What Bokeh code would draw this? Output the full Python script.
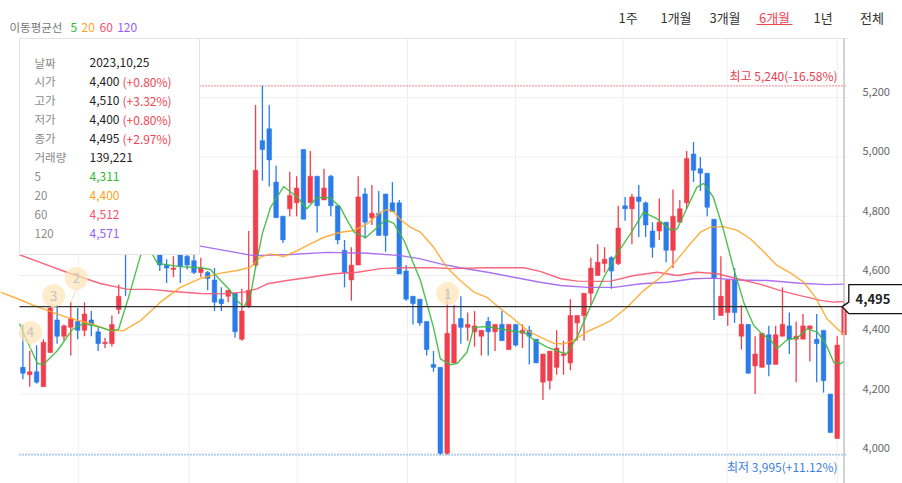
from bokeh.plotting import figure
from bokeh.models import Range1d
from bokeh.core.properties import value
from bokeh.embed import file_html
from bokeh.resources import INLINE

# ---------------- data (daily candles, 6 months) ----------------
opens = [
    4290, 4265, 4275, 4225, 4340, 4450, 4395, 4425, 4445, 4415,
    4450, 4410, 4370, 4370, 4485, 4800, 4700, 4780, 4720, 4760,
    4690, 4635, 4620, 4670, 4665, 4650, 4610, 4610, 4585, 4520,
    4530, 4540, 4385, 4495, 4635, 5055, 5095, 4915, 4800, 4825,
    4845, 5025, 4845, 4935, 4855, 4935, 4835, 4685, 4585, 4635,
    4875, 4795, 4810, 4875, 4845, 4845, 4615, 4530, 4520, 4445,
    4300, 4290, 4000, 4305, 4455, 4425, 4410, 4395, 4445, 4410,
    4435, 4350, 4435, 4405, 4415, 4385, 4240, 4245, 4290, 4330,
    4305, 4440, 4465, 4540, 4600, 4640, 4660, 4640, 4835, 4825,
    4865, 4845, 4750, 4750, 4780, 4685, 4780, 4845, 5010, 4960,
    4945, 4790, 4465, 4475, 4585, 4395, 4435, 4295, 4290, 4400,
    4300, 4395, 4430, 4385, 4385, 4420, 4385, 4415, 4200, 4050,
    4400]
highs = [
    4435, 4345, 4365, 4385, 4500, 4500, 4435, 4510, 4490, 4510,
    4480, 4425, 4390, 4465, 4570, 4830, 4800, 4810, 4790, 4770,
    4710, 4655, 4665, 4690, 4690, 4680, 4660, 4615, 4625, 4560,
    4550, 4540, 4555, 4750, 5175, 5240, 5175, 4970, 4800, 4950,
    4935, 5025, 5020, 4935, 4960, 4940, 4835, 4720, 4695, 4935,
    4895, 4905, 4885, 4875, 4915, 4855, 4635, 4530, 4520, 4445,
    4345, 4290, 4555, 4500, 4530, 4475, 4480, 4415, 4460, 4435,
    4480, 4435, 4435, 4435, 4430, 4385, 4335, 4345, 4415, 4380,
    4520, 4465, 4540, 4660, 4705, 4695, 4665, 4835, 4865, 4875,
    4905, 4850, 4780, 4860, 4780, 4890, 4855, 5020, 5050, 5000,
    4945, 4790, 4665, 4585, 4625, 4500, 4435, 4395, 4405, 4430,
    4430, 4560, 4475, 4445, 4470, 4430, 4470, 4415, 4200, 4395,
    4510]
lows = [
    4250, 4225, 4235, 4225, 4340, 4370, 4380, 4330, 4385, 4395,
    4395, 4345, 4355, 4360, 4470, 4530, 4690, 4700, 4700, 4680,
    4615, 4575, 4595, 4575, 4620, 4605, 4595, 4550, 4480, 4480,
    4510, 4390, 4380, 4490, 4625, 4920, 4900, 4795, 4710, 4800,
    4800, 4790, 4845, 4745, 4855, 4800, 4705, 4560, 4515, 4635,
    4725, 4770, 4735, 4680, 4815, 4605, 4515, 4435, 4430, 4330,
    4275, 3995, 3995, 4305, 4370, 4380, 4360, 4330, 4330, 4345,
    4380, 4350, 4360, 4355, 4300, 4305, 4180, 4215, 4265, 4265,
    4280, 4380, 4380, 4500, 4600, 4610, 4555, 4635, 4785, 4705,
    4730, 4730, 4660, 4720, 4645, 4625, 4780, 4825, 4915, 4885,
    4800, 4450, 4465, 4430, 4440, 4350, 4270, 4200, 4290, 4260,
    4300, 4395, 4335, 4240, 4385, 4310, 4240, 4205, 4070, 4050,
    4400]
closes = [
    4270, 4275, 4240, 4375, 4490, 4395, 4430, 4455, 4415, 4470,
    4435, 4370, 4375, 4435, 4530, 4690, 4780, 4720, 4760, 4700,
    4635, 4625, 4625, 4630, 4635, 4610, 4625, 4590, 4510, 4505,
    4550, 4410, 4480, 4550, 4955, 5025, 4990, 4795, 4720, 4870,
    4895, 4790, 4935, 4835, 4895, 4835, 4720, 4610, 4635, 4865,
    4780, 4810, 4735, 4735, 4815, 4605, 4520, 4505, 4440, 4350,
    4290, 4000, 4405, 4435, 4425, 4435, 4430, 4415, 4410, 4435,
    4380, 4435, 4365, 4415, 4395, 4305, 4335, 4345, 4355, 4335,
    4465, 4465, 4540, 4625, 4645, 4655, 4615, 4760, 4825, 4865,
    4850, 4770, 4695, 4780, 4685, 4800, 4825, 4995, 4955, 4945,
    4830, 4590, 4530, 4585, 4475, 4435, 4270, 4335, 4405, 4300,
    4400, 4435, 4385, 4395, 4430, 4430, 4370, 4245, 4070, 4365,
    4495]

# moving averages (candle position, price)
ma5_idx = [-0.5, 0.38, 2.13, 3.0, 5.06, 7.25, 8.86, 10.32, 11.34, 12.8, 13.97, 15.44, 17.19,
           18.2, 19.67, 23.0, 25.95, 27.4, 28.9, 30.3, 31.3, 32.3, 33.3, 34.0, 35.0, 36.2,
           38.1, 40.1, 41.5, 43.0, 44.9, 46.4, 47.4, 48.4, 50.1, 51.8, 53.0, 54.2, 55.7,
           57.1, 58.1, 60.0, 61.0, 62.5, 63.5, 64.9, 65.9, 67.9, 69.8, 71.7, 73.2, 74.7,
           76.6, 78.6, 79.5, 81.0, 82.9, 84.9, 86.8, 88.8, 90.7, 92.7, 94.6, 95.6, 97.1,
           98.5, 99.5, 100.9, 102.4, 103.9, 105.4, 106.8, 108.0, 109.3, 110.2, 111.7,
           113.2, 114.6, 116.1, 117.3, 118.5, 119.5, 120.0]
ma5_val = [4438, 4391, 4303, 4300, 4347, 4418, 4438, 4431, 4425, 4414, 4418, 4526, 4667,
           4701, 4641, 4630, 4626, 4620, 4583, 4549, 4516, 4493, 4538, 4628, 4742, 4830,
           4900, 4864, 4825, 4864, 4862, 4830, 4785, 4746, 4727, 4763, 4788, 4776, 4718,
           4639, 4583, 4425, 4319, 4299, 4304, 4341, 4425, 4428, 4420, 4412, 4409, 4383,
           4358, 4341, 4336, 4392, 4493, 4594, 4673, 4741, 4814, 4791, 4754, 4757, 4830,
           4898, 4911, 4864, 4752, 4620, 4505, 4431, 4403, 4381, 4353, 4383,
           4390, 4420, 4409, 4370, 4307, 4302, 4311]

ma20_idx = [-3.27, -0.5, 1.55, 6.52, 9.88, 12.8, 14.7, 17.2, 20.1, 23.0, 25.95, 28.9, 31.3,
            33.3, 34.7, 36.2, 38.1, 40.1, 42.0, 44.0, 46.4, 48.4, 50.3, 52.3, 53.2, 54.2,
            55.2, 56.6, 58.1, 60.0, 62.0, 63.9, 65.9, 67.9, 69.8, 71.7, 73.7, 75.6, 77.6,
            79.0, 80.5, 82.5, 84.4, 85.9, 88.3, 90.7, 93.2, 95.1, 97.1, 99.0, 100.5, 102.4,
            104.4, 106.3, 108.3, 110.2, 112.2, 114.1, 115.8, 117.5, 119.0, 120.0]
ma20_val = [4544, 4519, 4499, 4458, 4438, 4414, 4414, 4448, 4510, 4560, 4590, 4608, 4617,
            4628, 4662, 4673, 4664, 4684, 4707, 4729, 4746, 4752, 4774, 4814, 4822, 4814,
            4788, 4763, 4746, 4696, 4626, 4583, 4544, 4525, 4488, 4454, 4414, 4392, 4371,
            4369, 4381, 4411, 4431, 4448, 4493, 4549, 4594, 4639, 4695, 4746, 4763, 4765,
            4752, 4724, 4679, 4634, 4608, 4577, 4527, 4454, 4420, 4400]

ma60_idx = [-0.5, 3.0, 6.5, 11.3, 15.3, 18.6, 22.0, 25.95, 28.9, 32.3, 34.2, 35.7, 38.6,
            42.0, 45.4, 48.9, 52.3, 55.2, 60.0, 62.5, 67.4, 73.2, 75.6, 78.6, 81.0, 84.4,
            85.9, 89.3, 92.7, 95.6, 98.5, 101.5, 104.4, 107.8, 110.7, 113.6, 116.6, 118.5, 120.0]
ma60_val = [4670, 4640, 4610, 4573, 4553, 4553, 4546, 4539, 4538, 4544, 4555, 4572, 4583,
            4594, 4606, 4611, 4623, 4626, 4626, 4623, 4626, 4626, 4614, 4589, 4581, 4580,
            4581, 4600, 4611, 4600, 4611, 4606, 4589, 4570, 4549, 4532, 4516, 4510, 4512]

ma120_idx = [-0.5, 13.0, 25.95, 33.7, 39.1, 44.5, 50.4, 55.2, 58.1, 61.0, 63.9, 67.9, 71.7,
             75.6, 78.6, 82.5, 86.4, 90.3, 94.2, 98.0, 100.9, 104.4, 108.8, 113.6, 117.5, 120.0]
ma120_val = [4745, 4722, 4699, 4667, 4671, 4678, 4675, 4667, 4656, 4639, 4626, 4611, 4594,
             4577, 4566, 4560, 4560, 4572, 4577, 4589, 4591, 4585, 4583, 4574, 4569, 4571]

ytick_values = [4000, 4200, 4400, 4600, 4800, 5000, 5200]
ytick_labels = ["4,000", "4,200", "4,400", "4,600", "4,800", "5,000", "5,200"]

period_buttons = ["1주", "1개월", "3개월", "6개월", "1년", "전체"]
selected_period = "6개월"
ma_title = "이동평균선"
ma_names = ["5", "20", "60", "120"]

high_price = 5240
high_label = "최고 5,240(-16.58%)"
low_price = 3995
low_label = "최저 3,995(+11.12%)"

tooltip_labels = ["날짜", "시가", "고가", "저가", "종가", "거래량", "5", "20", "60", "120"]
tooltip_values = ["2023,10,25", "4,400", "4,510", "4,400", "4,495", "139,221",
                  "4,311", "4,400", "4,512", "4,571"]
tooltip_pcts = ["(+0.80%)", "(+3.32%)", "(+0.80%)", "(+2.97%)"]

event_labels = ["4", "3", "2", "1"]
event_x = [1.1, 4.5, 7.8, 62.1]
event_y = [4408, 4532, 4590, 4539]
event_candle = [1, 4, 7, 62]

grid_x = [8.1, 24.3, 40.1, 56.2, 72.0, 87.7, 102.9, 119.0]

# ---------------- styling / layout ----------------
RED = "#f03e4d"
BLUE = "#2b7ce9"
MA_COLORS = ["#3cb93c", "#ffa629", "#f7566f", "#a063f2"]
TXT_COLORS = ["#2fb82f", "#ffa31a", "#ff4d6a", "#9a5cf5"]
KR = "Noto Sans CJK KR"

W, H = 902, 483
XS, X_AT0 = 6.843, 22.4        # px per candle, page x of candle 0
VS, V_AT0 = 3.374, 5527.8      # price per px, price at page y = 0


def X(px):
    return (px - X_AT0) / XS


def Y(py):
    return V_AT0 - VS * py


p = figure(width=W, height=H, title=None,
           x_range=Range1d(X(0), X(W)), y_range=Range1d(Y(H), Y(0)),
           output_backend="svg", toolbar_location=None, tools="",
           x_axis_location=None, y_axis_location=None, min_border=0,
           outline_line_color=None, background_fill_color="white",
           border_fill_color="white")
p.xgrid.visible = False
p.ygrid.visible = False


def txt(px, py, s, color, size="12px", align="left", style="normal", font=KR):
    p.text(x=[X(px)], y=[Y(py)], text=[s], text_color=color,
           text_font=value(font), text_font_size=size, text_align=align,
           text_baseline="middle", text_font_style=style)


# grid
p.segment(x0=[X(19)] * len(ytick_values), y0=ytick_values,
          x1=[X(847)] * len(ytick_values), y1=ytick_values,
          line_color="#efefef", line_width=1)
p.segment(x0=grid_x, y0=[Y(38)] * len(grid_x), x1=grid_x, y1=[Y(490)] * len(grid_x),
          line_color="#efefef", line_width=1)
p.segment(x0=[X(18)], y0=[Y(38)], x1=[X(847)], y1=[Y(38)], line_color="#e4e4e4", line_width=1)

# high / low reference lines
p.segment(x0=[X(19)], y0=[high_price], x1=[X(847)], y1=[high_price],
          line_color="#e8404f", line_width=1.2, line_dash="1 2")
p.segment(x0=[X(19)], y0=[low_price], x1=[X(847)], y1=[low_price],
          line_color=BLUE, line_width=1.2, line_dash="1 2")

# candles
idx = list(range(len(opens)))
colors = [RED if c >= o else BLUE for o, c in zip(opens, closes)]
tops = [max(o, c) for o, c in zip(opens, closes)]
bots = [min(o, c) for o, c in zip(opens, closes)]
p.segment(x0=idx, y0=lows, x1=idx, y1=highs, line_color=colors, line_width=1.3)
p.vbar(x=idx, width=0.68, top=tops, bottom=bots, fill_color=colors, line_color=colors,
       line_width=0.5)

# moving averages
for xs, ys, col in [(ma120_idx, ma120_val, MA_COLORS[3]), (ma60_idx, ma60_val, MA_COLORS[2]),
                    (ma20_idx, ma20_val, MA_COLORS[1]), (ma5_idx, ma5_val, MA_COLORS[0])]:
    p.line(xs, ys, line_color=col, line_width=1.4, line_alpha=0.9)

# crosshair on last candle
last_i = len(closes) - 1
last_price = closes[-1]
p.segment(x0=[X(19)], y0=[last_price], x1=[X(847)], y1=[last_price],
          line_color="#333333", line_width=1.2)
p.segment(x0=[last_i], y0=[Y(38)], x1=[last_i], y1=[Y(490)],
          line_color="#c4c4c4", line_width=1.5)

# event markers (pin to candle high, then bubble)
p.segment(x0=event_x, y0=[v - 11 * VS for v in event_y],
          x1=event_candle, y1=[highs[i] for i in event_candle],
          line_color="#f5dcae", line_width=1)
p.scatter(event_x, event_y, size=23, marker="circle", fill_color="#fde4b8",
          fill_alpha=0.7, line_color=None)
p.text(x=event_x, y=event_y, text=event_labels, text_color="#c4c4c4",
       text_font=value(KR), text_font_size="13px", text_align="center",
       text_baseline="middle")

# labels for high / low
txt(837, 75, high_label, "#e8404f", "12px", align="right")
txt(837, 466, low_label, "#3a80dc", "12px", align="right")

# right price labels
for v, lab in zip(ytick_values, ytick_labels):
    p.text(x=[X(862)], y=[v + 5.5 * VS], text=[lab], text_color="#666666",
           text_font=value(KR), text_font_size="11px", text_align="left",
           text_baseline="middle")

# price tag for current value
ly = (V_AT0 - last_price) / VS
p.patch(x=[X(910), X(848.3), X(848.3), X(841.7), X(848.3), X(910)],
        y=[Y(ly - 22), Y(ly - 22), Y(ly - 4.5), Y(ly), Y(ly + 7), Y(ly + 7)],
        fill_color="white", line_color="#111111", line_width=1.3)
txt(855, ly - 7.5, f"{last_price:,}", "#222222", "13px", style="bold")

# tooltip box
p.quad(left=[X(19)], right=[X(199)], top=[Y(38)], bottom=[Y(254)],
       fill_color="white", line_color="#e3e3e3", line_width=1)
for k, lab in enumerate(tooltip_labels):
    py = 62 + 18.95 * k
    txt(34, py, lab, "#8a8a8a", "11.5px")
    if k < 6:
        vcol = "#222222"
    else:
        vcol = TXT_COLORS[k - 6]
    txt(89, py, tooltip_values[k], vcol, "12px")
    if 1 <= k <= 4:
        txt(122, py, tooltip_pcts[k - 1], "#f04452", "12px")

# top-left legend
txt(9, 26.7, ma_title, "#777777", "11.5px")
for name, col, px in zip(ma_names, TXT_COLORS, [70, 81, 99, 116.7]):
    txt(px, 26.7, name, col, "12px")

# period buttons
for name, px in zip(period_buttons, [627.5, 675.5, 724.5, 774, 822.5, 871.5]):
    col = "#f04452" if name == selected_period else "#333333"
    txt(px, 16.5, name, col, "13px", align="center")
p.segment(x0=[X(756)], y0=[Y(24)], x1=[X(792)], y1=[Y(24)], line_color="#f04452", line_width=1)

open("out.html", "w").write(file_html(p, INLINE))
